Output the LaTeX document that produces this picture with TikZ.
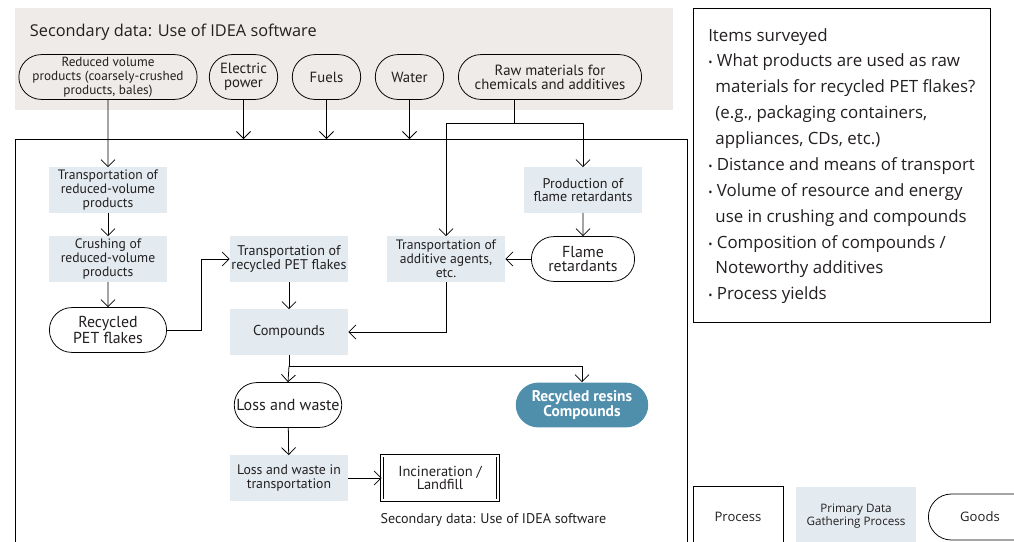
\documentclass[tikz,border=0pt]{standalone}
\usepackage{fontspec}
\setmainfont{Open Sans}
\newfontfamily\condfont{PT Sans}
\usepackage{xcolor}
\definecolor{bandgray}{RGB}{238,235,233}
\definecolor{primblue}{RGB}{227,235,240}
\definecolor{resinblue}{RGB}{80,143,172}
\definecolor{inkgray}{RGB}{35,31,32}
\usepackage{tikz}
\usetikzlibrary{positioning,arrows.meta,shapes}

\newcommand{\fsz}[2]{\fontsize{#1}{#2}\selectfont}
\tikzset{
  flow/.style={-{Straight Barb[length=5pt,width=10pt]}, line width=.55pt},
  nodetxt/.style={font=\condfont\fontsize{9.7}{9.8}\selectfont, text=inkgray, align=center, inner sep=1pt},
  primary/.style={nodetxt, fill=primblue, minimum width=2.95cm, minimum height=1.13cm},
  goods/.style={nodetxt, draw, line width=.55pt, rounded rectangle, minimum height=1.12cm},
}

\begin{document}
\begin{tikzpicture}[x=0.025cm, y=-0.025cm]
\useasboundingbox (0,0) rectangle (1014,541);
\clip (0,0) rectangle (1014,541);

\fill[bandgray] (15,8) rectangle (673,110);
\node[anchor=west, text=inkgray, font=\fontsize{11.6}{13}\selectfont] (sectitle) at (25,32) {Secondary data: Use of IDEA software};
\draw[line width=.55pt] (15,560) -- (15,139) -- (687,139) -- (687,560);
\coordinate (ftop) at (0,139);

\node[goods, minimum width=4.33cm] (redvol) at (108,77) {\fsz{9.4}{9.3}Reduced volume\\\fsz{9.4}{9.3}products (coarsely-crushed\\\fsz{9.4}{9.3}products, bales)};
\node[goods, minimum width=1.78cm] (elec) at (243.5,77) {\fsz{10.5}{10.2}Electric\\\fsz{10.5}{10.2}power};
\node[goods, minimum width=1.78cm] (fuels) at (326.5,77) {\fsz{10.5}{10}Fuels};
\node[goods, minimum width=1.78cm] (water) at (409.5,77) {\fsz{10.5}{10}Water};
\node[goods, minimum width=4.65cm] (raw) at (550,77) {\fsz{10.5}{10.2}Raw materials for\\\fsz{10.5}{10.2}chemicals and additives};

\node[primary] (trred) at (108,190) {Transportation of\\reduced-volume\\products};
\node[primary] (crush) at (108,259) {Crushing of\\reduced-volume\\products};
\node[goods, minimum width=3cm] (flakes) at (108,330) {\fsz{11.3}{11.2}Recycled\\\fsz{11.3}{11.2}PET flakes};
\node[primary] (trpet) at (289,259) {\fsz{10}{10.2}Transportation of\\\fsz{10}{10.2}recycled PET flakes};
\node[primary] (comp) at (289,332) {\fsz{10.2}{10}Compounds};
\node[primary] (tradd) at (446,259) {Transportation of\\additive agents,\\etc.};
\node[primary] (prodfr) at (583,190) {\fsz{10}{10.2}Production of\\\fsz{10}{10.2}flame retardants};
\node[goods, minimum width=2.65cm] (flame) at (583,259) {\fsz{11.3}{11.2}Flame\\\fsz{11.3}{11.2}retardants};
\node[goods, minimum width=2.65cm] (loss) at (288,405) {\fsz{11.4}{11}Loss and waste};
\node[goods, draw=none, fill=resinblue, text=white, minimum width=3.38cm, minimum height=1.12cm] (resin) at (582,405) {\bfseries\fsz{11}{11}Recycled resins\\\bfseries\fsz{11}{11}Compounds};
\node[primary] (losstr) at (289,478) {\fsz{9.8}{10.3}Loss and waste in\\\fsz{9.8}{10.3}transportation};
\node[nodetxt, draw, double, double distance=1.4pt, line width=.5pt, minimum width=2.9cm, minimum height=1.12cm] (incin) at (440,478) {\fsz{10.3}{10.5}Incineration /\\\fsz{10.3}{10.5}Landfill};
\node[nodetxt, anchor=west] (secnote) at (379,520) {\fsz{10}{10}Secondary data: Use of IDEA software};

% inputs from the secondary data band
\draw[flow] (redvol) -- (trred);
\draw[flow] (elec) -- (elec |- ftop);
\draw[flow] (fuels) -- (fuels |- ftop);
\draw[flow] (water) -- (water |- ftop);
\coordinate (rawsplit) at (514,123);
\draw[line width=.55pt] (rawsplit |- raw.south) -- (rawsplit);
\draw[flow] (rawsplit) -| (tradd.north);
\draw[flow] (rawsplit) -| (prodfr.north);

\draw[flow] (trred) -- (crush);
\draw[flow] (crush) -- (flakes);
\draw[flow] (flakes.east) -- ++(34,0) |- (trpet.west);
\draw[flow] (trpet) -- (comp);
\draw[flow] (tradd.south) |- (comp.east);
\draw[flow] (flame) -- (tradd);
\draw[flow] (prodfr) -- (flame);
\coordinate (branch) at (289,366);
\draw[line width=.55pt] (comp.south) -- (branch);
\draw[flow] (branch) -- (loss.north);
\draw[flow] (branch) -| (resin.north);
\draw[flow] (loss) -- (losstr);
\draw[flow] (losstr) -- (incin);

% items surveyed
\draw[line width=.55pt] (693,8) rectangle (990,322);
\node[anchor=north west, text=inkgray, inner sep=0pt, align=left, font=\fontsize{12}{18.4}\selectfont] (items) at (708,28) {Items surveyed\\
{\footnotesize\textbullet}\ What products are used as raw\\
\phantom{\footnotesize\textbullet\ }materials for recycled PET flakes?\\
\phantom{\footnotesize\textbullet\ }(e.g., packaging containers,\\
\phantom{\footnotesize\textbullet\ }appliances, CDs, etc.)\\
{\footnotesize\textbullet}\ Distance and means of transport\\
{\footnotesize\textbullet}\ Volume of resource and energy\\
\phantom{\footnotesize\textbullet\ }use in crushing and compounds\\
{\footnotesize\textbullet}\ Composition of compounds /\\
\phantom{\footnotesize\textbullet\ }Noteworthy additives\\
{\footnotesize\textbullet}\ Process yields};

% legend
\node[draw, line width=.55pt, anchor=north west, minimum width=2.25cm, minimum height=2cm] (legproc) at (693,486) {};
\node[text=inkgray, font=\fontsize{9.3}{10}\selectfont] (legproctxt) at (738,517) {Process};
\node[fill=primblue, anchor=north west, minimum width=3cm, minimum height=2cm] (legprim) at (796,487) {};
\node[text=inkgray, align=center, font=\fontsize{8.3}{9.8}\selectfont] (legprimtxt) at (856,516) {Primary Data\\Gathering Process};
\node[draw, line width=.55pt, rounded rectangle, anchor=west, minimum width=3cm, minimum height=1.15cm] (leggoods) at (928,517) {};
\node[text=inkgray, font=\fontsize{9.3}{10}\selectfont] (leggoodstxt) at (980,517) {Goods};
\end{tikzpicture}
\end{document}
